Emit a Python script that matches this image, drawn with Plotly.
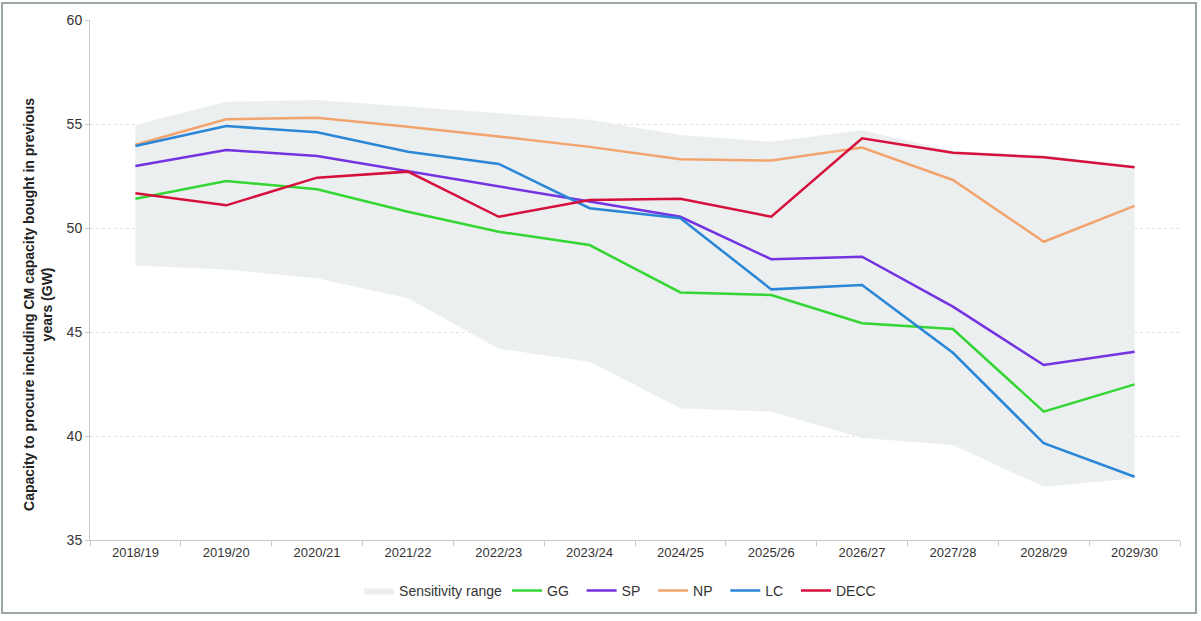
import plotly.graph_objects as go

years = ["2018/19", "2019/20", "2020/21", "2021/22", "2022/23", "2023/24",
         "2024/25", "2025/26", "2026/27", "2027/28", "2028/29", "2029/30"]

band_upper = [54.95, 56.07, 56.15, 55.83, 55.5, 55.2, 54.47, 54.15, 54.7, 53.7, 53.5, 53.0]
band_lower = [48.2, 48.0, 47.58, 46.62, 44.2, 43.57, 41.33, 41.17, 39.9, 39.57, 37.56, 37.97]

gg = [51.41, 52.26, 51.86, 50.78, 49.82, 49.18, 46.9, 46.78, 45.42, 45.14, 41.17, 42.48]
sp = [52.98, 53.75, 53.46, 52.74, 51.99, 51.27, 50.54, 48.5, 48.62, 46.22, 43.41, 44.05]
np_ = [54.0, 55.23, 55.3, 54.87, 54.4, 53.9, 53.3, 53.24, 53.87, 52.31, 49.34, 51.06]
lc = [53.94, 54.9, 54.6, 53.67, 53.08, 50.95, 50.47, 47.05, 47.26, 44.0, 39.65, 38.04]
decc = [51.67, 51.09, 52.42, 52.71, 50.54, 51.35, 51.41, 50.54, 54.31, 53.62, 53.4, 52.92]

series = [("GG", gg, "#33d633"), ("SP", sp, "#7433e0"), ("NP", np_, "#f2a46e"),
          ("LC", lc, "#2a86d6"), ("DECC", decc, "#d6103c")]

y_title = "<b>Capacity to procure including CM capacity bought in previous<br>years (GW)</b>"

fig = go.Figure()
fig.add_trace(go.Scatter(
    x=years + years[::-1], y=band_upper + band_lower[::-1],
    fill="toself", fillcolor="#eceff0", line=dict(width=0),
    mode="lines", name="Sensitivity range", hoverinfo="skip"))

for name, vals, col in series:
    fig.add_trace(go.Scatter(x=years, y=vals, mode="lines", name=name + "\u00a0\u00a0",
                             line=dict(color=col, width=2.5)))

fig.update_layout(
    width=1201, height=621,
    margin=dict(l=90, r=21, t=20, b=81),
    paper_bgcolor="white", plot_bgcolor="white",
    font=dict(family="Arial, Liberation Sans, sans-serif", size=13, color="#333333"),
    showlegend=True,
    legend=dict(orientation="h", x=0.49, xanchor="center", y=-0.067, yanchor="top",
                font=dict(size=14, color="#333333"), itemwidth=30, tracegroupgap=0),
    xaxis=dict(type="category", range=[-0.5, 11.5], automargin=False, showgrid=False,
               showline=True, linecolor="#c8c8c8",
               linewidth=1, ticks="outside", tickson="boundaries", ticklen=5,
               tickcolor="#c8c8c8", tickfont=dict(size=13, color="#333333")),
    yaxis=dict(range=[35, 60], dtick=5, automargin=False, showgrid=True, gridcolor="#e2e2e2",
               griddash="dot", showline=True, linecolor="#c8c8c8", linewidth=1,
               ticks="outside", ticklen=4, tickcolor="#c8c8c8",
               tickfont=dict(size=14, color="#333333"), zeroline=False),
)

fig.add_annotation(text=y_title, xref="paper", yref="paper", x=-0.0477, y=0.452,
                   textangle=-90, showarrow=False, xanchor="center", yanchor="middle",
                   font=dict(size=14, color="#222222"))

fig.add_shape(type="rect", xref="paper", yref="paper",
              x0=-0.0807, x1=1.0147, y0=-0.1404, y1=1.0327,
              line=dict(color="#9aa5a5", width=2), fillcolor="rgba(0,0,0,0)", layer="below")

fig.write_html("out.html", config={"displayModeBar": False},
               post_script="document.body.style.margin='0px';document.body.style.overflow='hidden';")
